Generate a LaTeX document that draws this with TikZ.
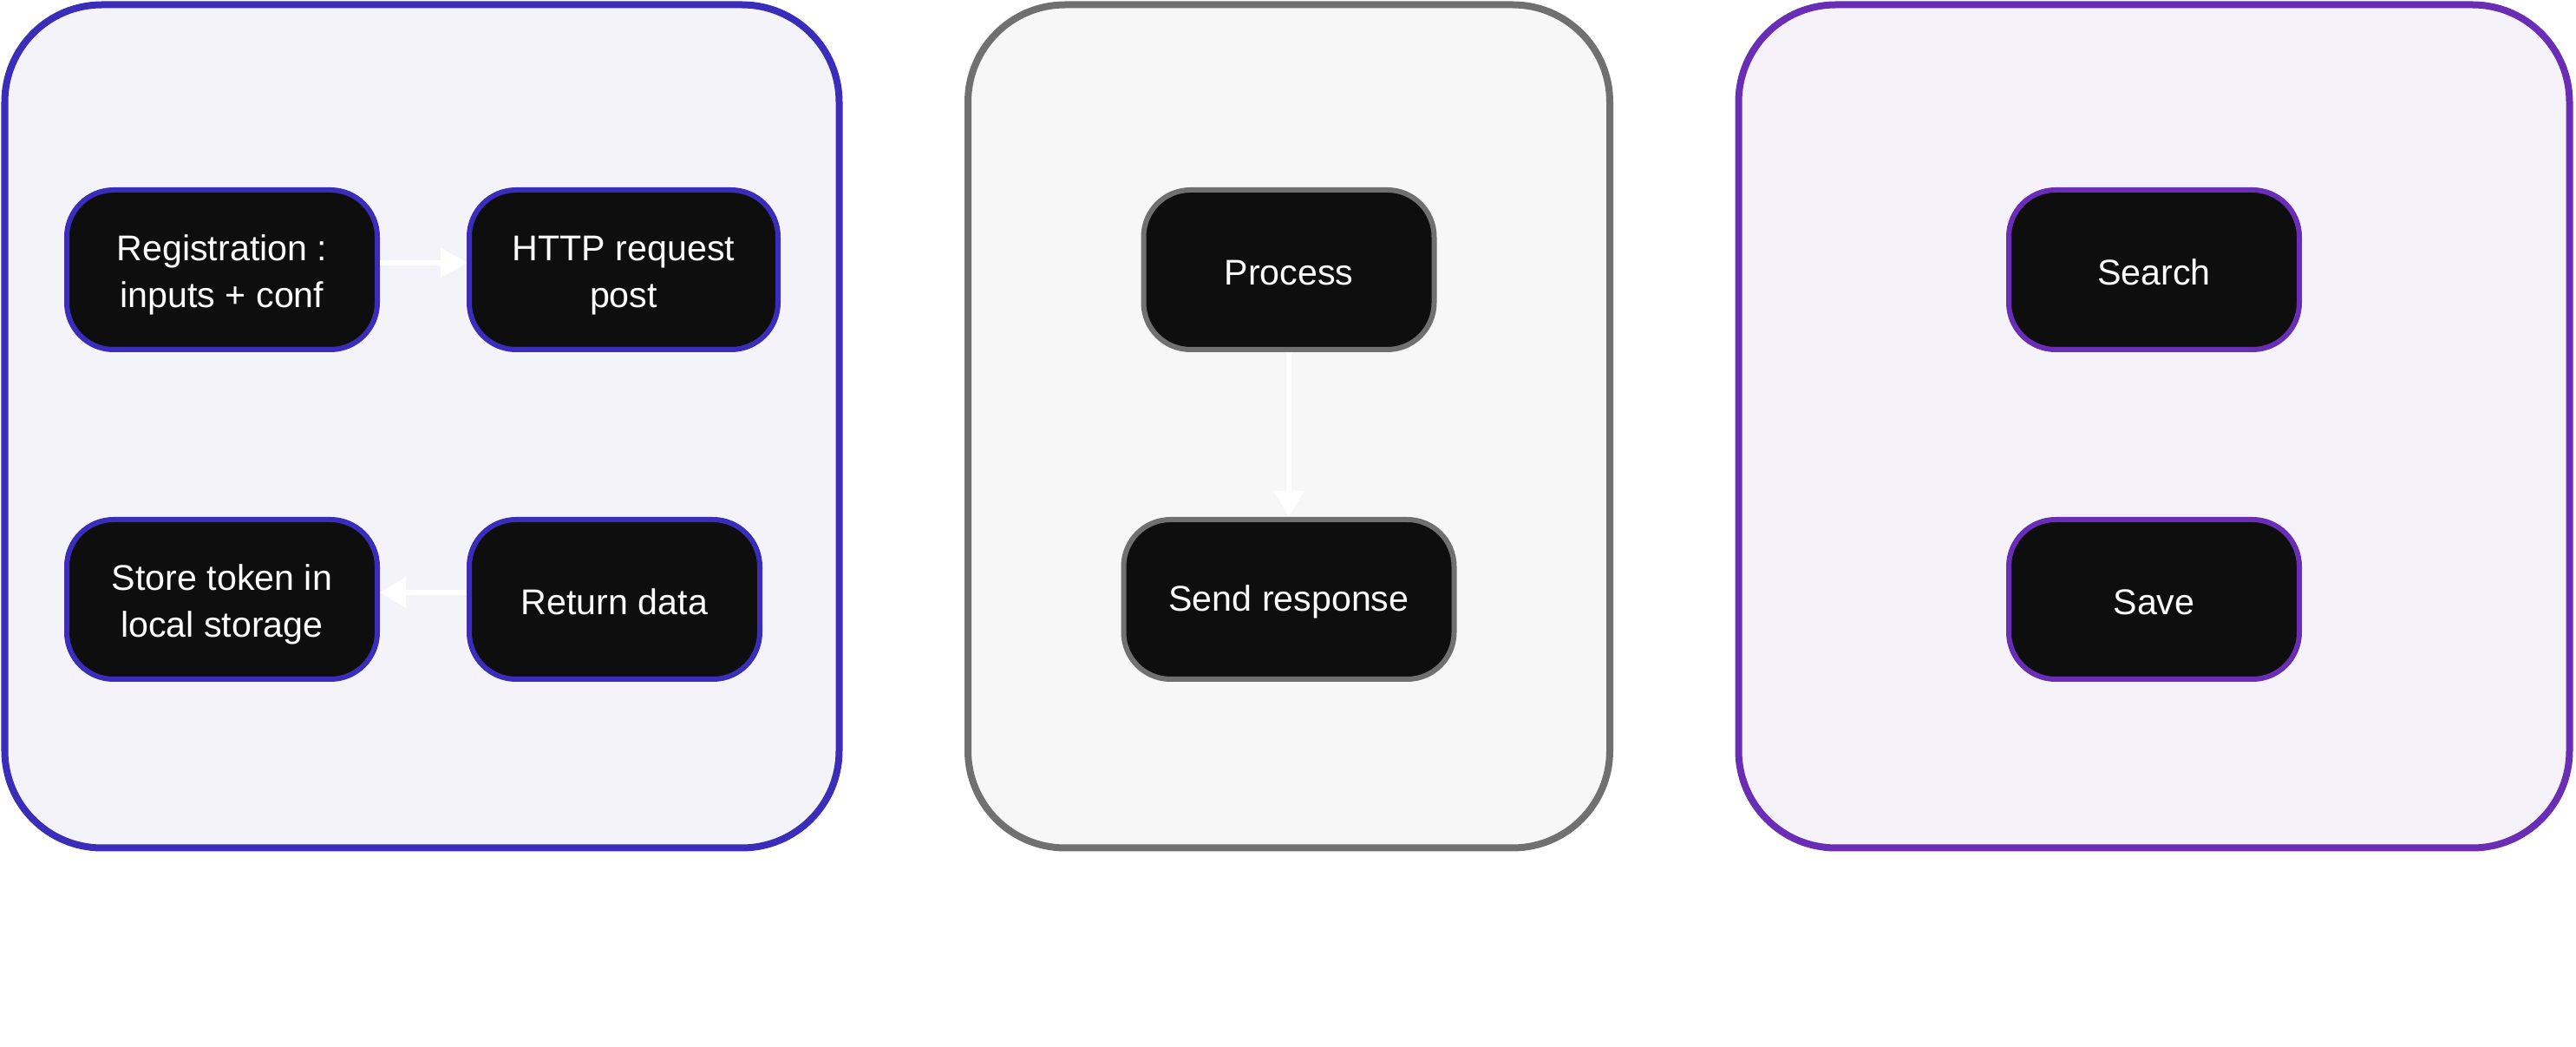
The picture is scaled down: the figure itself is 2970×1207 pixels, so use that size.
\documentclass[tikz,border=0pt]{standalone}
\usepackage{fontspec}
\setmainfont{Liberation Sans}
\usepackage{xcolor}
\usepackage{tikz}
\usetikzlibrary{positioning,arrows.meta}

\definecolor{clientline}{HTML}{3A2DBA}
\definecolor{clientfill}{HTML}{F5F3FA}
\definecolor{serverline}{HTML}{707070}
\definecolor{serverfill}{HTML}{F7F7F7}
\definecolor{dbline}{HTML}{6A2DB6}
\definecolor{dbfill}{HTML}{F6F2FA}
\definecolor{taskfill}{HTML}{0E0E0E}

\begin{document}
\begin{tikzpicture}[
    x=0.25pt, y=-0.25pt,
    node distance=47.5pt and 25pt,
    panel/.style={rectangle, draw, line width=2pt, rounded corners=28pt, inner sep=0pt},
    task/.style={rectangle, draw, fill=taskfill, text=white, line width=1.5pt, rounded corners=13.5pt,
        minimum height=46pt, align=center, font=\fontsize{10.3}{13.5}\selectfont,
        execute at begin node={\rule{0pt}{9.1pt}}},
    twoline/.style={execute at begin node={\rule{0pt}{23.9pt}}},
    flow/.style={-{Triangle[length=7.5pt,width=8.5pt]}, draw=white, line width=1.5pt}
]
\useasboundingbox (0,0) rectangle (2970,1207);

% the three lanes
\node[panel, draw=clientline, fill=clientfill, minimum width=240.5pt, minimum height=243pt] (client) at (486.5,491.5) {};
\node[panel, draw=serverline, fill=serverfill, minimum width=185pt, minimum height=243pt] (server) at (1486,491.5) {};
\node[panel, draw=dbline, fill=dbfill, minimum width=239.5pt, minimum height=243pt] (db) at (2483.5,491.5) {};

% client side
\node[task, twoline, draw=clientline, minimum width=89.5pt] (register) at (256,311) {Registration :\\inputs + conf};
\node[task, twoline, draw=clientline, minimum width=89pt, right=of register] (request) {HTTP request\\post};
\node[task, twoline, draw=clientline, minimum width=89.5pt, below=of register] (store) {Store token in\\local storage};
\node[task, draw=clientline, minimum width=83.75pt, right=of store] (answer) {Return data};

% server side
\node[task, draw=serverline, minimum width=83.75pt] (process) at (1486,311) {Process};
\node[task, draw=serverline, minimum width=95.25pt, below=of process] (respond) {Send response};

% database side
\node[task, draw=dbline, minimum width=83.75pt] (search) at (2483.5,311) {Search};
\node[task, draw=dbline, minimum width=83.75pt, below=of search] (save) {Save};

\draw[flow] ([yshift=2pt]register.east) -- ([yshift=2pt]request.west);
\draw[flow] ([yshift=2pt]answer.west) -- ([yshift=2pt]store.east);
\draw[flow] (process) -- (respond);

\end{tikzpicture}
\end{document}
